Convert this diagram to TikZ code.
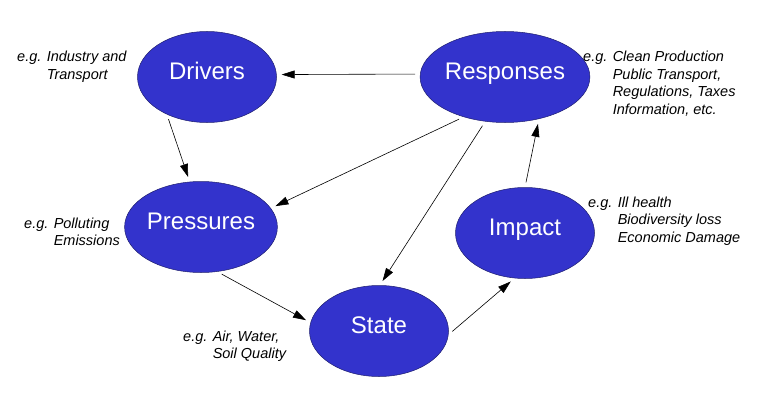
\documentclass[tikz,border=0pt]{standalone}
\usepackage{fontspec}
\setmainfont{Liberation Sans}
\usetikzlibrary{shapes.geometric,arrows.meta}
\definecolor{dpsirblue}{RGB}{51,51,204}
\definecolor{dpsiredge}{RGB}{30,30,110}

\begin{document}
\begin{tikzpicture}[
    x=1pt, y=-1pt,
    stage/.style={ellipse, draw=dpsiredge, line width=0.5pt, fill=dpsirblue,
        minimum width=139pt, minimum height=91pt, inner sep=0pt,
        text=white, font=\fontsize{24}{28}\selectfont,
        text height=0.72em, text depth=0.25em},
    example/.style={anchor=base west, inner sep=0pt,
        font=\fontsize{14.5}{17.5}\selectfont\itshape},
    link/.style={-{Triangle[length=13pt,width=8pt]}, line width=0.6pt,
        shorten <=5pt, shorten >=5pt}
]
    \useasboundingbox (0,0) rectangle (770,401);

    % --- The five stages ---
    \node[stage] (drivers)   at (207,77)  {Drivers};
    \node[stage] (responses) at (505,77)  {Responses};
    \node[stage] (pressures) at (201,227) {Pressures};
    \node[stage] (state)     at (379,331) {State};
    \node[stage] (impact)    at (525,233) {Impact};

    % --- Examples next to each stage ---
    \node[example] (drvlbl) at (17,62)
        {e.g. \begin{tabular}[t]{@{}l@{}}Industry and\\Transport\end{tabular}};
    \node[example] (reslbl) at (583,62)
        {e.g. \begin{tabular}[t]{@{}l@{}}Clean Production\\Public Transport,\\Regulations, Taxes\\Information, etc.\end{tabular}};
    \node[example] (prelbl) at (24,228)
        {e.g. \begin{tabular}[t]{@{}l@{}}Polluting\\Emissions\end{tabular}};
    \node[example] (stalbl) at (183,341)
        {e.g. \begin{tabular}[t]{@{}l@{}}Air, Water,\\Soil Quality\end{tabular}};
    \node[example] (implbl) at (588,207)
        {e.g. \begin{tabular}[t]{@{}l@{}}Ill health\\Biodiversity loss\\Economic Damage\end{tabular}};

    % --- Arrows ---
    \draw[link] (responses.178) -- (drivers.2);
    \draw[link] (drivers.223)   -- (pressures.104);
    \draw[link] (responses.224) -- (pressures.15);
    \draw[link] (responses.246) -- (state.89);
    \draw[link] (pressures.290) -- (state.173);
    \draw[link] (state.-3)      -- (impact.257);
    \draw[link] (impact.90)     -- (responses.309);

\end{tikzpicture}
\end{document}
